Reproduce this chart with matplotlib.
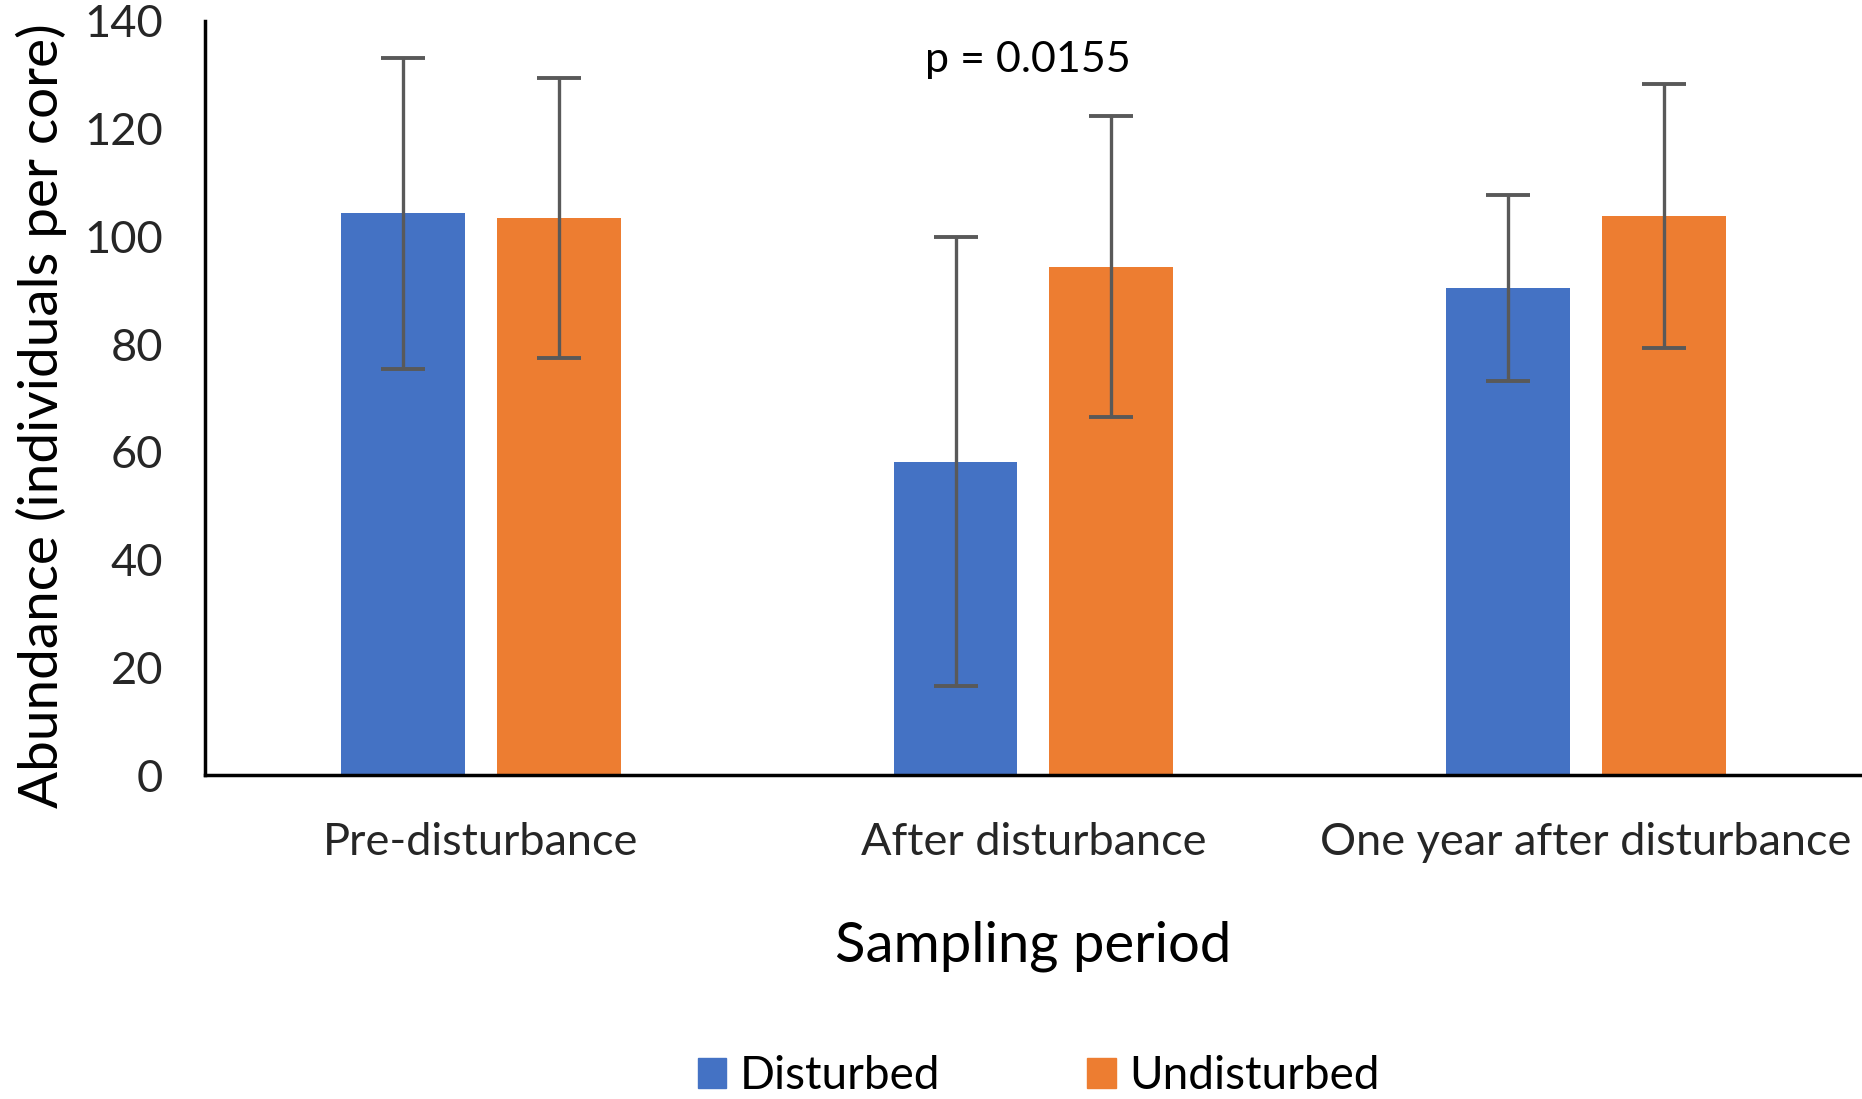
import numpy as np
import matplotlib.pyplot as plt
from matplotlib.patches import Patch

plt.rcParams['font.family'] = ['Lato', 'DejaVu Sans']

periods = ['Pre-disturbance', 'After disturbance', 'One year after disturbance']
disturbed = np.array([104.3, 58.2, 90.4])
disturbed_err = np.array([28.9, 41.6, 17.2])
undisturbed = np.array([103.4, 94.4, 103.8])
undisturbed_err = np.array([26.0, 28.0, 24.5])

blue = '#4472C4'
orange = '#ED7D31'
err_color = '#595959'

fig = plt.figure(figsize=(18.62, 10.99), dpi=100)
ax = fig.add_axes([0.110, 0.2948, 0.890, 0.6862])

x = np.arange(len(periods))
w = 0.224
off = 0.141
ax.bar(x - off, disturbed, w, color=blue, yerr=disturbed_err,
       error_kw=dict(ecolor=err_color, elinewidth=2.4, capsize=16, capthick=2.8))
ax.bar(x + off, undisturbed, w, color=orange, yerr=undisturbed_err,
       error_kw=dict(ecolor=err_color, elinewidth=2.4, capsize=16, capthick=2.8))

ax.set_xlim(-0.5, 2.5)
ax.set_ylim(0, 140)
ax.set_yticks(np.arange(0, 141, 20))
ax.set_xticks(x)
ax.set_xticklabels(periods)
ax.tick_params(axis='both', length=0, labelsize=32.5)
ax.tick_params(axis='y', pad=30)
ax.tick_params(axis='x', pad=34)
for lab in ax.get_xticklabels() + ax.get_yticklabels():
    lab.set_color('#262626')

ax.spines['top'].set_visible(False)
ax.spines['right'].set_visible(False)
ax.spines['left'].set_linewidth(2.5)
ax.spines['bottom'].set_linewidth(2.5)

ax.set_ylabel('Abundance (individuals per core)', fontsize=39.5, labelpad=20)
ax.yaxis.set_label_coords(-0.083, 0.476)
ax.set_xlabel('Sampling period', fontsize=40.5, labelpad=41)

ax.text(0.99, 132.8, 'p = 0.0155', ha='center', va='center', fontsize=31)

handles = [Patch(color=blue, label='Disturbed'), Patch(color=orange, label='Undisturbed')]
fig.legend(handles=handles, loc='center', bbox_to_anchor=(0.558, 0.021), ncol=2,
           frameon=False, fontsize=33, handlelength=0.62, handleheight=0.62,
           handletextpad=0.3, columnspacing=3.2)

plt.savefig('out.png', dpi=100)
